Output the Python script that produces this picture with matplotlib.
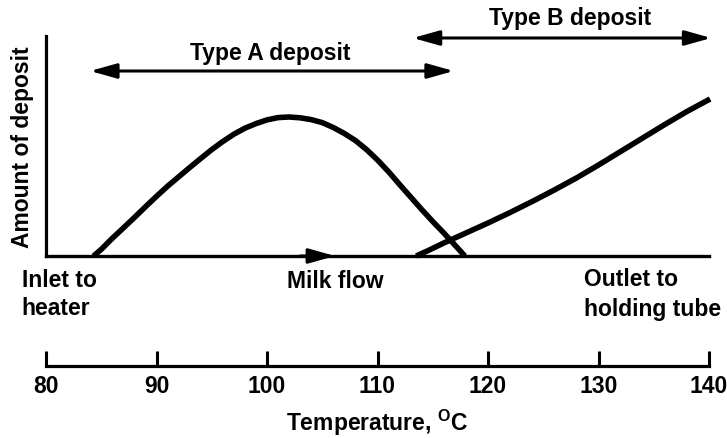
import matplotlib
matplotlib.use('Agg')
import matplotlib.pyplot as plt
from matplotlib import font_manager

# Deposit curves along the heater (temperature in degC, amount in arbitrary units)
temp_a = [84.3, 85, 86, 87, 88, 89, 90, 91, 92, 93, 94, 95, 96, 97, 98, 99, 100,
          101, 102, 103, 104, 105, 106, 107, 108, 109, 110, 111, 112, 113, 114,
          115, 116, 117, 117.9]
amount_a = [0, 6.6, 17.7, 28.0, 38.5, 49.2, 59.7, 69.8, 79.1, 88.4, 97.5, 106.4,
            114.5, 121.8, 127.8, 132.4, 136.1, 138.4, 139.0, 138.2, 136.4, 133.4,
            128.5, 122.5, 115.5, 106.5, 96.0, 84.3, 71.5, 59.0, 46.5, 34.5, 23.0,
            11.0, 0]

temp_b = [113.5, 114.5, 116, 118, 120, 122, 124, 126, 128, 130, 132, 134, 136,
          138, 140.1]
amount_b = [0, 5.0, 13.0, 23.0, 33.0, 43.5, 54.5, 66.0, 78.0, 91.0, 104.5, 118.0,
            131.5, 144.5, 157.0]

# Temperature spans of the two deposit types
type_a_range = [84.0, 116.9]
type_b_range = [113.2, 140.2]

temp_ticks = [80, 90, 100, 110, 120, 130, 140]

installed = {f.name for f in font_manager.fontManager.ttflist}
family = 'Liberation Sans Narrow' if 'Liberation Sans Narrow' in installed else 'Liberation Sans'
plt.rcParams['font.family'] = [family, 'DejaVu Sans']
plt.rcParams['font.weight'] = 'bold'
plt.rcParams['axes.labelweight'] = 'bold'
plt.rcParams['mathtext.fontset'] = 'custom'
plt.rcParams['mathtext.rm'] = family + ':bold'

W, H = 727, 439
fig = plt.figure(figsize=(W / 100, H / 100), dpi=100)


def rect(x0, y0, x1, y1):
    # pixel box (top-left origin) -> figure fraction rectangle
    return [x0 / W, 1 - y1 / H, (x1 - x0) / W, (y1 - y0) / H]


FS = 16.5

ax = fig.add_axes(rect(46, 37, 709, 257))
ax.set_xlim(80, 140)
ax.set_ylim(0, 220)
for side in ('top', 'right'):
    ax.spines[side].set_visible(False)
ax.spines['left'].set_linewidth(2.3)
ax.spines['bottom'].set_linewidth(2.4)
ax.set_xticks([])
ax.set_yticks([])
ax.set_ylabel('Amount of deposit', fontsize=FS, labelpad=9)

ax.plot(temp_a, amount_a, color='black', lw=4.0, solid_joinstyle='round',
        solid_capstyle='butt', clip_on=False)
ax.plot(temp_b, amount_b, color='black', lw=4.0, solid_joinstyle='round',
        solid_capstyle='butt', clip_on=False)

head = dict(color='black', lw=2.2, shrinkA=0, shrinkB=0, mutation_scale=10)
style = '<|-|>,head_length=1.6,head_width=0.45'
ax.annotate('', xy=(type_a_range[1], 185), xytext=(type_a_range[0], 185),
            arrowprops=dict(arrowstyle=style, **head), annotation_clip=False)
ax.annotate('', xy=(type_b_range[1], 218), xytext=(type_b_range[0], 218),
            arrowprops=dict(arrowstyle=style, **head), annotation_clip=False)
ax.text(sum(type_a_range) / 2 - 0.2, 197, 'Type A deposit', fontsize=FS,
        ha='center', va='baseline')
ax.text(127.4, 232, 'Type B deposit', fontsize=FS, ha='center', va='baseline',
        clip_on=False)

# milk flow direction marker on the baseline
ax.annotate('', xy=(106.15, 0), xytext=(103.0, 0),
            arrowprops=dict(arrowstyle='-|>,head_length=1.6,head_width=0.45', **head),
            annotation_clip=False)
ax.text(106.2, -31, 'Milk flow', fontsize=FS, ha='center', va='baseline')
ax.text(77.8, -30, 'Inlet to', fontsize=FS, ha='left', va='baseline')
ax.text(77.8, -58, 'heater', fontsize=FS, ha='left', va='baseline')
ax.text(128.7, -29, 'Outlet to', fontsize=FS, ha='left', va='baseline')
ax.text(128.7, -59, 'holding tube', fontsize=FS, ha='left', va='baseline')

# separate temperature scale below
ax2 = fig.add_axes(rect(46, 330, 709, 367))
ax2.set_xlim(80, 140)
for side in ('top', 'right', 'left'):
    ax2.spines[side].set_visible(False)
ax2.spines['bottom'].set_linewidth(2.3)
ax2.set_yticks([])
ax2.set_xticks(temp_ticks)
ax2.tick_params(axis='x', direction='in', length=11, width=2.2, pad=6,
                labelsize=FS)
ax2.set_xlabel(r'Temperature, $^{\mathrm{O}}$C', fontsize=FS, labelpad=7)

fig.savefig('out.png', dpi=100)
